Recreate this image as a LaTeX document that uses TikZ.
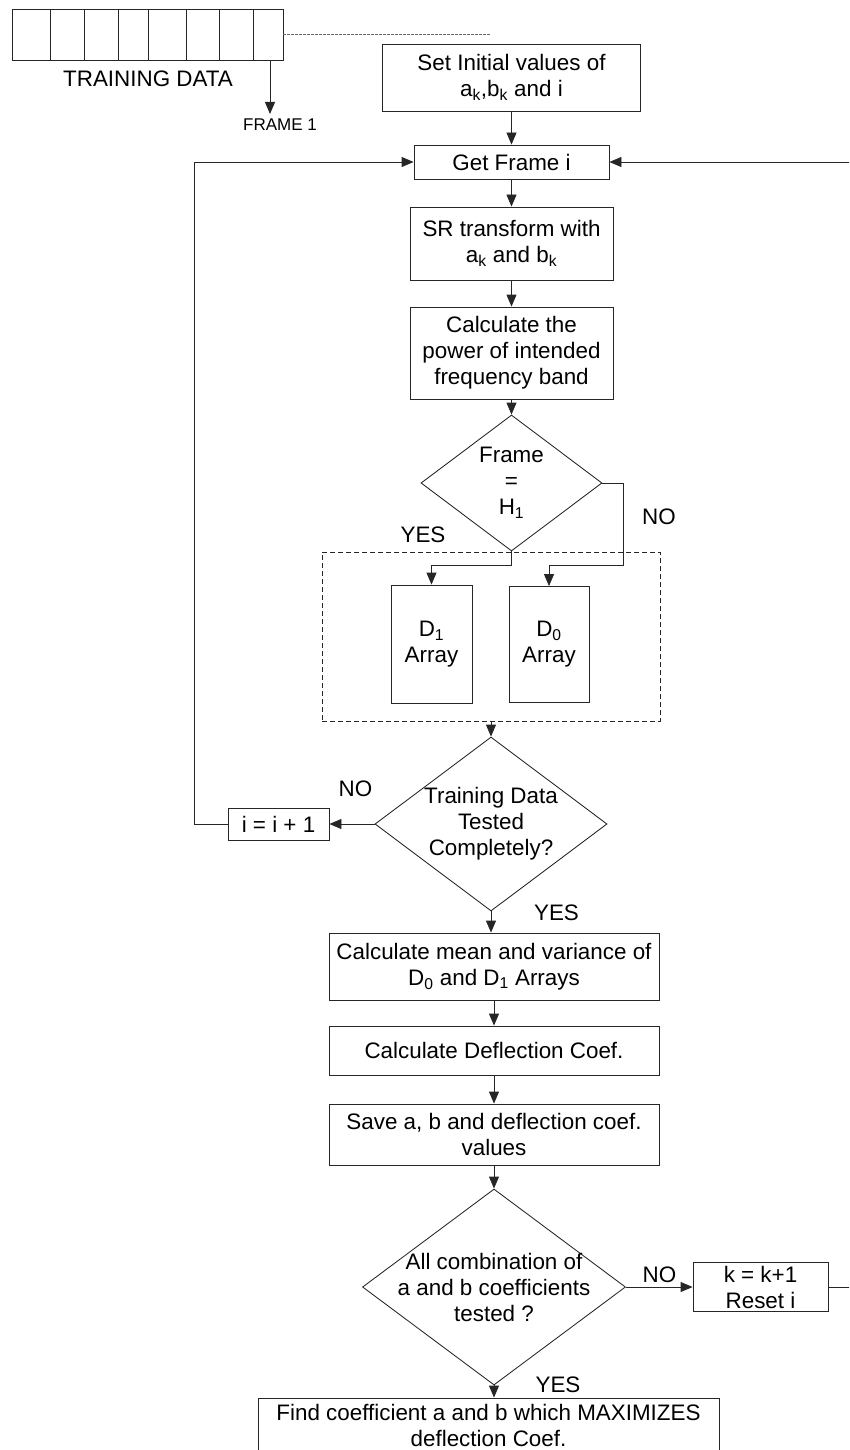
\documentclass[tikz,border=0pt]{standalone}
\usepackage{fontspec}
\setmainfont{Liberation Sans}
\usetikzlibrary{shapes.geometric,arrows.meta}
\begin{document}
\begin{tikzpicture}[x=1pt,y=-1pt,
  font=\fontsize{22.4}{26}\selectfont,
  line/.style={draw=black!85, line width=0.85pt},
  arr/.style={line, -{Triangle[length=12pt,width=10pt]}},
  box/.style={draw=black!85, line width=0.85pt, rectangle, inner sep=0pt, align=center, text=black},
  dia/.style={draw=black!85, line width=0.85pt, diamond, inner sep=0pt},
  lbl/.style={inner sep=0pt, align=center},
]
\useasboundingbox (0,0) rectangle (849,1450);
\clip (0,0) rectangle (849,1450);
\fill[white] (0,0) rectangle (849,1450);

% training data strip
\node[box, minimum width=271pt, minimum height=51pt] (strip) at (147.5,34.5) {};
\foreach \x in {50,84,118,148,186,219,253} \draw[line] (\x,9) -- (\x,60);
\node[lbl] (tdata) at (148,79) {TRAINING DATA};
\coordinate (f1) at (270,60);
\coordinate (f1end) at (270,114);
\node[lbl, font=\fontsize{17}{20}\selectfont] (frame1) at (280,124.5) {FRAME 1};
\draw[arr] (f1) -- (f1end);
\coordinate (dashend) at (490,34.5);
\draw[draw=black!60, line width=0.6pt, dash pattern=on 2.5pt off 1.5pt] (strip.east) -- (dashend);

% main column
\node[box, minimum width=258pt, minimum height=67pt] (init) at (511.5,77.5) {Set Initial values of\\a\textsubscript{k},b\textsubscript{k} and i};
\node[box, minimum width=195pt, minimum height=34pt] (gf) at (511.5,162) {Get Frame i};
\node[box, minimum width=203pt, minimum height=73pt] (sr) at (511.5,243.5) {SR transform with\\a\textsubscript{k} and b\textsubscript{k}};
\node[box, minimum width=203pt, minimum height=92pt] (pow) at (511.5,353) {Calculate the\\power of intended\\frequency band};
\node[dia, minimum width=181pt, minimum height=136pt] (d1) at (511.5,483) {};
\node[lbl] at (d1) {Frame\\=\\H\textsubscript{1}};

\node[draw=black!85, line width=0.85pt, dash pattern=on 5pt off 3pt, minimum width=338pt, minimum height=169pt, inner sep=0pt] (grp) at (491,636.5) {};
\node[box, minimum width=81pt, minimum height=118pt] (D1) at (431.5,644) {D\textsubscript{1}\\Array};
\node[box, minimum width=80pt, minimum height=116pt] (D0) at (549,644.5) {D\textsubscript{0}\\Array};

\node[dia, minimum width=232pt, minimum height=174pt] (d2) at (491,824) {};
\node[lbl] at (d2) {Training Data\\Tested\\Completely?};
\node[box, minimum width=101pt, minimum height=32pt] (inc) at (278.5,824) {i = i + 1};

\node[box, minimum width=330pt, minimum height=67pt] (mean) at (494,966.5) {Calculate mean and variance of\\D\textsubscript{0} and D\textsubscript{1} Arrays};
\node[box, minimum width=330pt, minimum height=49pt] (defl) at (494,1050.5) {Calculate Deflection Coef.};
\node[box, minimum width=330pt, minimum height=61pt] (save) at (494,1134.5) {Save a, b and deflection coef.\\values};
\node[dia, minimum width=263pt, minimum height=196pt] (d3) at (494,1287) {};
\node[lbl] at (d3) {All combination of\\a and b coefficients\\tested ?};
\node[box, minimum width=135pt, minimum height=49pt] (kb) at (760.5,1287) {k = k+1\\Reset i};
\node[box, minimum width=461pt, minimum height=54pt] (find) at (488.5,1425) {Find coefficient a and b which MAXIMIZES\\deflection Coef.};

% connectors
\draw[arr] (init.south) -- (gf.north);
\draw[arr] (gf.south) -- (sr.north);
\draw[arr] (sr.south) -- (pow.north);
\draw[arr] (pow.south) -- (d1.north);
\draw[arr] (d1.south) -- ++(0,14) -| (D1.north);
\draw[arr] (d1.east) -- (623,483) -- (623,565) -| (D0.north);
\draw[arr] (grp.south) -- (d2.north);
\draw[arr] (d2.west) -- (inc.east);
\draw[arr] (inc.west) -- (194,824) |- (gf.west);
\draw[arr] (d2.south) -- (d2.south |- mean.north);
\draw[arr] (mean.south) -- (defl.north);
\draw[arr] (defl.south) -- (save.north);
\draw[arr] (save.south) -- (d3.north);
\draw[arr] (d3.east) -- (kb.west);
\draw[arr] (kb.east) -- (880,1287) |- (gf.east);
\draw[arr] (d3.south) -- (d3.south |- find.north);

% labels
\node[lbl] at (423,534.5) {YES};
\node[lbl] at (659,517) {NO};
\node[lbl] at (355.5,789) {NO};
\node[lbl] at (556.5,912.5) {YES};
\node[lbl] at (659.5,1275) {NO};
\node[lbl] at (558,1385) {YES};
\end{tikzpicture}
\end{document}
